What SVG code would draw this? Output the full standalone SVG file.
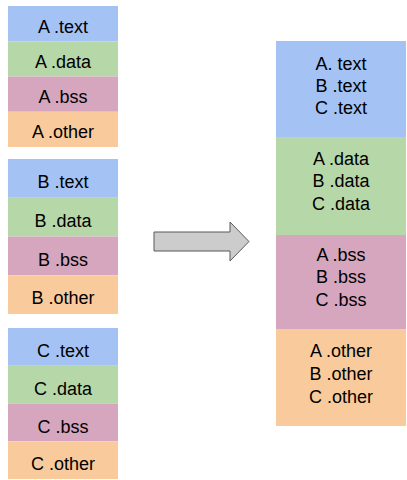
<svg xmlns="http://www.w3.org/2000/svg" width="407" height="480" viewBox="0 0 407 480">
<style>
.t{fill:#a4c2f4}.d{fill:#b6d7a8}.b{fill:#d5a6bd}.o{fill:#f9cb9c}
text{font-family:"Liberation Sans",Arial,sans-serif;font-size:18px;fill:#000;text-anchor:middle}
</style>
<rect width="407" height="480" fill="#fff"/>
<g id="groupA">
<rect class="t" x="8" y="6" width="110" height="35.25"/>
<rect class="d" x="8" y="41.25" width="110" height="35.25"/>
<rect class="b" x="8" y="76.5" width="110" height="35.25"/>
<rect class="o" x="8" y="111.75" width="110" height="35.25"/>
<text x="63" y="32.5">A .text</text>
<text x="63" y="67.8">A .data</text>
<text x="63" y="103">A .bss</text>
<text x="63" y="138.3">A .other</text>
</g>
<g id="groupB">
<rect class="t" x="8" y="159" width="110" height="38.75"/>
<rect class="d" x="8" y="197.75" width="110" height="38.75"/>
<rect class="b" x="8" y="236.5" width="110" height="38.75"/>
<rect class="o" x="8" y="275.25" width="110" height="38.75"/>
<text x="63" y="188">B .text</text>
<text x="63" y="226.8">B .data</text>
<text x="63" y="265.5">B .bss</text>
<text x="63" y="304.3">B .other</text>
</g>
<g id="groupC">
<rect class="t" x="8" y="328" width="110" height="37.75"/>
<rect class="d" x="8" y="365.75" width="110" height="37.75"/>
<rect class="b" x="8" y="403.5" width="110" height="37.75"/>
<rect class="o" x="8" y="441.25" width="110" height="37.75"/>
<text x="63" y="357">C .text</text>
<text x="63" y="394.8">C .data</text>
<text x="63" y="432.5">C .bss</text>
<text x="63" y="470.3">C .other</text>
</g>
<g id="connectors">
<polygon points="154,232 230,232 230,222 249,241.5 230,261 230,251 154,251" fill="#cccccc" stroke="#595959" stroke-width="1"/>
</g>
<g id="merged">
<rect class="t" x="276" y="41" width="130" height="96"/>
<rect class="d" x="276" y="137" width="130" height="98"/>
<rect class="b" x="276" y="235" width="130" height="94"/>
<rect class="o" x="276" y="329" width="130" height="97"/>
<text x="341" y="69.5">A. text</text>
<text x="341" y="91.5">B .text</text>
<text x="341" y="113.5">C .text</text>
<text x="341" y="164.5">A .data</text>
<text x="341" y="187">B .data</text>
<text x="341" y="209.5">C .data</text>
<text x="341" y="260.5">A .bss</text>
<text x="341" y="283">B .bss</text>
<text x="341" y="305.5">C .bss</text>
<text x="341" y="356.5">A .other</text>
<text x="341" y="379.5">B .other</text>
<text x="341" y="402.5">C .other</text>
</g>
</svg>
